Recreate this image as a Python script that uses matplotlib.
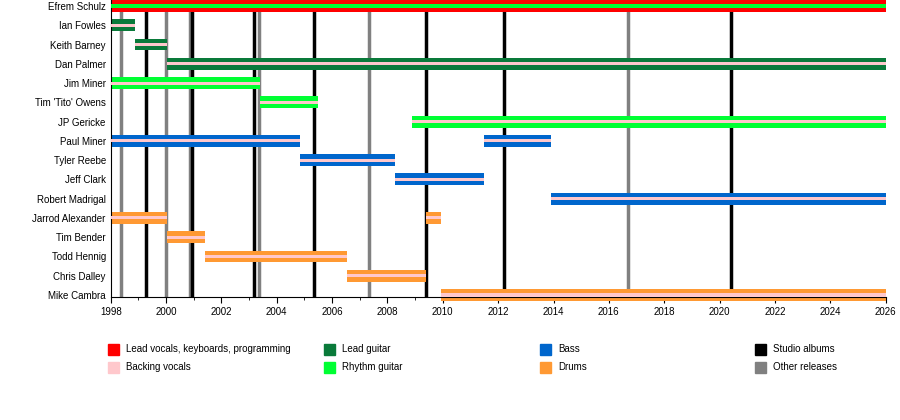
import matplotlib
matplotlib.use("Agg")
import matplotlib.pyplot as plt
from matplotlib.patches import Rectangle
from matplotlib.ticker import MultipleLocator

plt.rcParams['font.family'] = ['Liberation Sans', 'DejaVu Sans']

members = ["Efrem Schulz", "Ian Fowles", "Keith Barney", "Dan Palmer", "Jim Miner",
           "Tim 'Tito' Owens", "JP Gericke", "Paul Miner", "Tyler Reebe", "Jeff Clark",
           "Robert Madrigal", "Jarrod Alexander", "Tim Bender", "Todd Hennig",
           "Chris Dalley", "Mike Cambra"]
# (start, end) periods per member
periods = [[(1998, 2026)], [(1998, 1998.87)], [(1998.87, 2000.05)], [(2000.05, 2026)],
           [(1998, 2003.38)], [(2003.38, 2005.5)], [(2008.9, 2026)],
           [(1998, 2004.83), (2011.5, 2013.9)], [(2004.83, 2008.26)], [(2008.26, 2011.5)],
           [(2013.9, 2026)], [(1998, 2000.05), (2009.4, 2009.92)], [(2000.05, 2001.4)],
           [(2001.4, 2006.53)], [(2006.53, 2009.4)], [(2009.92, 2026)]]
roles = ["vocals", "lead", "lead", "lead", "rhythm", "rhythm", "rhythm", "bass", "bass",
         "bass", "bass", "drums", "drums", "drums", "drums", "drums"]
studio_albums = [1999.28, 2000.95, 2003.18, 2005.35, 2009.39, 2012.2, 2020.43]
other_releases = [1998.37, 2000.0, 2000.85, 2003.36, 2007.33, 2016.7]

colors = {"vocals": "#ff0000", "backing": "#ffc8cc", "lead": "#0a7a3a",
          "rhythm": "#00ff33", "bass": "#0066cc", "drums": "#ff9933"}

fig = plt.figure(figsize=(9, 4.2), dpi=100)
ax = fig.add_axes([0.123, 0.293, 0.861, 0.707])

for x in other_releases:
    ax.axvline(x, color="#808080", lw=2.5, zorder=1)
for x in studio_albums:
    ax.axvline(x, color="black", lw=2.5, zorder=1)

for i, (pers, role) in enumerate(zip(periods, roles)):
    inner = colors["rhythm"] if role == "vocals" else colors["backing"]
    for s, e in pers:
        ax.broken_barh([(s, e - s)], (i - 0.31, 0.62), facecolor=colors[role],
                       edgecolor="none", zorder=2, clip_on=False)
        ax.broken_barh([(s, e - s)], (i - 0.08, 0.16), facecolor=inner,
                       edgecolor="none", zorder=3, clip_on=False)

ax.set_xlim(1998, 2026)
ax.set_ylim(15.1, -0.31)
ax.set_yticks(range(len(members)))
ax.set_yticklabels(members, fontsize=7)
ax.set_xticks(range(1998, 2027, 2))
ax.tick_params(axis='x', labelsize=7, length=4)
ax.tick_params(axis='y', length=0)
ax.xaxis.set_minor_locator(MultipleLocator(1))
for sp in ["top", "right"]:
    ax.spines[sp].set_visible(False)

legend_items = [(colors["vocals"], "Lead vocals, keyboards, programming"),
                (colors["backing"], "Backing vocals"),
                (colors["lead"], "Lead guitar"),
                (colors["rhythm"], "Rhythm guitar"),
                (colors["bass"], "Bass"),
                (colors["drums"], "Drums"),
                ("black", "Studio albums"),
                ("#808080", "Other releases")]
col_x = [108, 324, 540, 755]
row_y = [349, 367]
for k, (c, lab) in enumerate(legend_items):
    px, py = col_x[k // 2], row_y[k % 2]
    fig.patches.append(Rectangle((px / 900, 1 - (py + 6) / 420), 11 / 900, 11 / 420,
                                 transform=fig.transFigure, color=c))
    fig.text((px + 18) / 900, 1 - py / 420, lab, fontsize=7, va="center")

fig.savefig("out.png", dpi=100)
